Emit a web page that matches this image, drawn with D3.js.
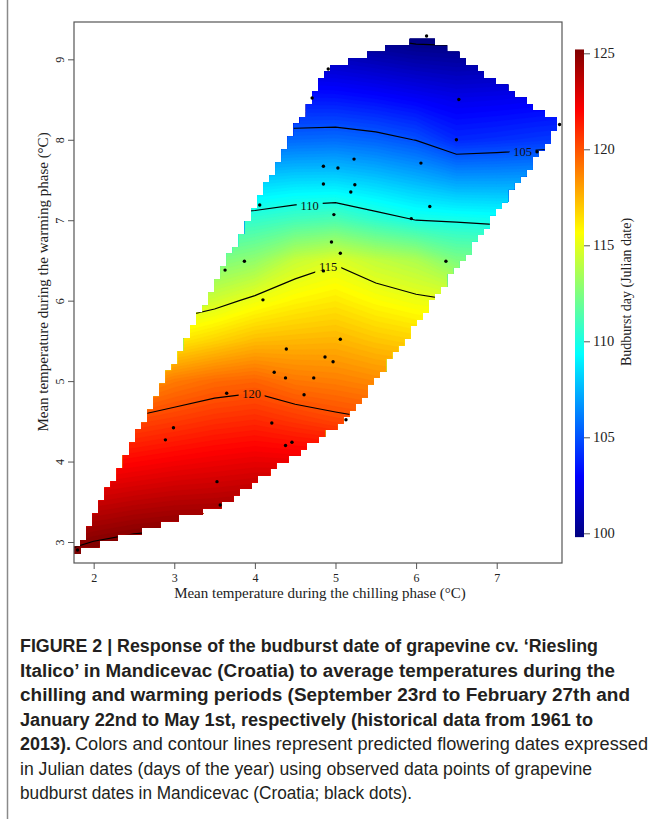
<!DOCTYPE html>
<html>
<head>
<meta charset="utf-8">
<script src="https://cdn.jsdelivr.net/npm/d3@7"></script>
<style>
  body { margin: 0; background: #fff; }
  svg { display: block; }
</style>
</head>
<body>
<svg id="chart" width="655" height="819"></svg>
<script>
// observed budburst years: mean chilling temp (x) and warming temp (y)
const chillTemp = [6.13, 4.91, 4.71, 6.53, 7.78, 6.50, 7.50, 5.23, 6.06, 4.85, 5.03, 4.85, 5.24, 5.19,
                   4.06, 6.17, 4.98, 5.94, 4.95, 5.06, 3.87, 6.37, 3.63, 4.85, 4.10, 5.06, 4.39, 4.87,
                   4.97, 4.24, 4.38, 4.73, 3.65, 4.61, 5.13, 4.21, 2.99, 2.89, 4.46, 4.38, 3.53, 3.57, 1.80];
const warmTemp  = [9.29, 8.88, 8.52, 8.50, 8.19, 8.00, 7.85, 7.76, 7.71, 7.67, 7.65, 7.45, 7.44, 7.35,
                   7.19, 7.17, 7.07, 7.02, 6.73, 6.59, 6.49, 6.49, 6.38, 6.37, 6.01, 5.52, 5.40, 5.30,
                   5.24, 5.11, 5.04, 5.04, 4.85, 4.83, 4.52, 4.48, 4.42, 4.27, 4.24, 4.20, 3.75, 3.46, 2.90];

// predicted budburst day (rows = warming temp, cols = chilling temp)
const gridChill = [1.5, 2.0, 2.5, 3.0, 3.5, 4.0, 4.5, 5.0, 5.5, 6.0, 6.5, 7.0, 7.5, 8.0];
const gridWarm = [2.5, 3.0, 3.5, 4.0, 4.5, 5.0, 5.5, 6.0, 6.5, 7.0, 7.5, 8.0, 8.5, 9.0, 9.5];
const budburstGrid = [
  [126.06, 126.68, 127.03, 127.13, 126.98, 127.12, 127.86, 128.81, 129.44, 130.00, 130.00, 130.00, 130.00, 130.00],
  [124.55, 125.03, 125.34, 125.49, 125.46, 125.61, 126.07, 126.69, 127.10, 127.50, 127.50, 127.50, 127.50, 127.50],
  [123.03, 123.39, 123.65, 123.85, 123.93, 124.09, 124.29, 124.58, 124.77, 125.00, 125.00, 125.00, 125.00, 125.00],
  [121.52, 121.74, 121.96, 122.21, 122.41, 122.58, 122.50, 122.46, 122.43, 122.50, 122.50, 122.50, 122.50, 122.50],
  [120.00, 120.10, 120.27, 120.57, 120.88, 121.06, 120.71, 120.34, 120.09, 120.00, 120.00, 120.00, 120.00, 120.00],
  [117.73, 117.90, 118.13, 118.94, 119.36, 119.55, 119.04, 118.87, 118.59, 118.42, 118.33, 118.30, 118.28, 118.28],
  [115.45, 115.67, 115.89, 116.20, 116.77, 117.34, 117.45, 117.53, 117.12, 116.84, 116.67, 116.60, 116.55, 116.55],
  [113.52, 113.68, 113.85, 114.06, 114.54, 115.29, 115.86, 116.18, 115.65, 115.25, 115.00, 114.85, 114.74, 114.74],
  [111.67, 111.80, 111.92, 112.11, 112.44, 112.97, 114.27, 114.84, 114.17, 113.69, 112.45, 112.30, 112.19, 112.16],
  [109.78, 109.91, 110.00, 110.16, 110.34, 110.61, 111.03, 111.27, 110.57, 110.00, 109.88, 109.72, 109.63, 109.59],
  [107.61, 107.68, 107.73, 107.83, 107.94, 108.09, 108.32, 108.35, 107.97, 107.47, 106.90, 106.91, 106.97, 107.04],
  [105.43, 105.45, 105.45, 105.47, 105.49, 105.52, 105.60, 105.69, 105.43, 104.96, 103.93, 104.10, 104.31, 104.49],
  [103.52, 103.52, 103.52, 103.52, 103.52, 103.52, 103.51, 103.48, 103.23, 102.87, 102.48, 102.57, 102.72, 102.86],
  [101.67, 101.67, 101.67, 101.67, 101.67, 101.67, 101.60, 101.43, 101.11, 100.79, 100.63, 100.74, 100.91, 101.07],
  [ 99.81,  99.81,  99.81,  99.81,  99.81,  99.81,  99.69,  99.39,  98.98,  98.71,  98.78,  98.90,  99.09,  99.29]
];

// contour lines and their labels
const contourLevels = [100, 105, 110, 115, 120, 125];
const labelLevels = [105, 110, 115, 120];
const labelChill = [7.32, 4.68, 4.91, 3.96];
const labelWarm = [7.85, 7.18, 6.42, 4.84];

// axes and colour bar
const xTicks = [2, 3, 4, 5, 6, 7];
const yTicks = [3, 4, 5, 6, 7, 8, 9];
const barTicks = [100, 105, 110, 115, 120, 125];
const zRange = [99.8, 125.2];
const colorStops = ["#00007F", "#0000FF", "#007FFF", "#00FFFF", "#7FFF7F", "#FFFF00", "#FF7F00", "#FF0000", "#7F0000"];

const captionBold = [
  "FIGURE 2 | Response of the budburst date of grapevine cv. \u2018Riesling",
  "Italico\u2019 in Mandicevac (Croatia) to average temperatures during the",
  "chilling and warming periods (September 23rd to February 27th and",
  "January 22nd to May 1st, respectively (historical data from 1961 to"
];
const captionBoldWidth = [578, 595, 610, 573];
const captionTail = "2013).";
const captionPlain = [
  "Colors and contour lines represent predicted flowering dates expressed",
  "in Julian dates (days of the year) using observed data points of grapevine",
  "budburst dates in Mandicevac (Croatia; black dots)."
];
const captionPlainWidth = [573, 572, 392];

const svg = d3.select("#chart");
const serif = "'Liberation Serif', 'Times New Roman', serif";

// plot box
const plotL = 74, plotR = 562, plotT = 22, plotB = 563;
const x = d3.scaleLinear().domain([1.756, 7.810]).range([plotL, plotR]);
const y = d3.scaleLinear().domain([2.739, 9.464]).range([plotB, plotT]);

const color = d3.scaleLinear()
    .domain(colorStops.map((c, i) => zRange[0] + i * (zRange[1] - zRange[0]) / (colorStops.length - 1)))
    .range(colorStops)
    .clamp(true);

// left frame line of the figure panel
svg.append("line")
    .attr("x1", 7.5).attr("x2", 7.5).attr("y1", 0).attr("y2", 819)
    .attr("stroke", "#8a8a8a").attr("stroke-width", 1.5);

const defs = svg.append("defs");

// cells of the prediction grid that fall inside the hull of the observations
const points = chillTemp.map((c, i) => [c, warmTemp[i]]);
const hull = d3.polygonHull(points);
const nCell = 80;
const xExt = d3.extent(chillTemp), yExt = d3.extent(warmTemp);
const cellX = d3.range(nCell).map(i => xExt[0] + i * (xExt[1] - xExt[0]) / (nCell - 1));
const cellY = d3.range(nCell).map(i => yExt[0] + i * (yExt[1] - yExt[0]) / (nCell - 1));
const dxCell = cellX[1] - cellX[0], dyCell = cellY[1] - cellY[0];

const cells = [];
cellX.forEach(cx => cellY.forEach(cy => {
    if (d3.polygonContains(hull, [cx, cy])) cells.push([cx, cy]);
}));
// the lowest observation sits on its own cell
cells.push([xExt[0], yExt[0]]);

// one path for all cells so the clip has no seams between them
const cellPath = d3.path();
const pad = 0.4;
cells.forEach(d => {
    const x0 = x(d[0] - dxCell / 2) - pad, x1 = x(d[0] + dxCell / 2) + pad;
    const y0 = y(d[1] + dyCell / 2) - pad, y1 = y(d[1] - dyCell / 2) + pad;
    cellPath.rect(x0, y0, x1 - x0, y1 - y0);
});
defs.append("clipPath").attr("id", "hullCells")
  .append("path")
    .attr("d", cellPath.toString())
    .attr("clip-rule", "nonzero");

// gaps in the contour lines behind the labels
const gapMask = defs.append("mask").attr("id", "labelGaps")
    .attr("maskUnits", "userSpaceOnUse")
    .attr("x", 0).attr("y", 0).attr("width", 655).attr("height", 819);
gapMask.append("rect").attr("width", 655).attr("height", 819).attr("fill", "#fff");
gapMask.selectAll("rect.gap")
  .data(labelLevels)
  .enter()
  .append("rect")
    .attr("class", "gap")
    .attr("x", (d, i) => x(labelChill[i]) - 13)
    .attr("y", (d, i) => y(labelWarm[i]) - 7)
    .attr("width", 26)
    .attr("height", 14)
    .attr("fill", "#000");

// grid -> plot coordinates for d3.contours output
const stepX = gridChill[1] - gridChill[0], stepY = gridWarm[1] - gridWarm[0];
const gridPath = d3.geoPath(d3.geoTransform({
    point: function (px, py) {
        this.stream.point(x(gridChill[0] + (px - 0.5) * stepX), y(gridWarm[0] + (py - 0.5) * stepY));
    }
}));
const flat = budburstGrid.flat();
const contourGen = d3.contours().size([gridChill.length, gridWarm.length]);

const surface = svg.append("g").attr("clip-path", "url(#hullCells)");

const bandStep = 0.2;
const bands = contourGen.thresholds(d3.range(98.6, 130.4, bandStep))(flat);
surface.selectAll("path.band")
  .data(bands)
  .enter()
  .append("path")
    .attr("class", "band")
    .attr("d", gridPath)
    .attr("fill", d => color(d.value + bandStep / 2))
    .attr("stroke", d => color(d.value + bandStep / 2))
    .attr("stroke-width", 0.3);

const lines = contourGen.thresholds(contourLevels)(flat);
surface.append("g").attr("mask", "url(#labelGaps)")
  .selectAll("path.iso")
  .data(lines)
  .enter()
  .append("path")
    .attr("class", "iso")
    .attr("d", gridPath)
    .attr("fill", "none")
    .attr("stroke", "#000")
    .attr("stroke-width", 1.2);

svg.selectAll("text.clabel")
  .data(labelLevels)
  .enter()
  .append("text")
    .attr("class", "clabel")
    .attr("x", (d, i) => x(labelChill[i]))
    .attr("y", (d, i) => y(labelWarm[i]))
    .attr("dy", "0.35em")
    .attr("text-anchor", "middle")
    .attr("font-family", serif)
    .attr("font-size", 12.5)
    .attr("fill", "#111")
    .text(d => d);

// observations
svg.selectAll("circle.obs")
  .data(points)
  .enter()
  .append("circle")
    .attr("class", "obs")
    .attr("cx", d => x(d[0]))
    .attr("cy", d => y(d[1]))
    .attr("r", 1.7)
    .attr("fill", "#000");

// box and axes
svg.append("rect")
    .attr("x", plotL).attr("y", plotT)
    .attr("width", plotR - plotL).attr("height", plotB - plotT)
    .attr("fill", "none").attr("stroke", "#555").attr("stroke-width", 1.2);

const xAxis = svg.append("g")
    .attr("transform", `translate(0,${plotB})`)
    .call(d3.axisBottom(x).tickValues(xTicks).tickSize(6).tickFormat(d3.format("d")));
const yAxis = svg.append("g")
    .attr("transform", `translate(${plotL},0)`)
    .call(d3.axisLeft(y).tickValues(yTicks).tickSize(6).tickFormat(d3.format("d")));
[xAxis, yAxis].forEach(a => {
    a.select(".domain").remove();
    a.selectAll("line").attr("stroke", "#555");
    a.selectAll("text").attr("font-family", serif).attr("font-size", 12).attr("fill", "#222");
});
xAxis.selectAll("text").attr("dy", "0.85em");
yAxis.selectAll("text")
    .attr("x", 0).attr("dy", 0)
    .attr("text-anchor", "middle")
    .attr("transform", "translate(-10.5,0) rotate(-90)");

svg.append("text")
    .attr("x", 320).attr("y", 598)
    .attr("text-anchor", "middle")
    .attr("font-family", serif).attr("font-size", 15).attr("fill", "#222")
    .text("Mean temperature during the chilling phase (\u00B0C)");

svg.append("text")
    .attr("transform", "translate(48,282) rotate(-90)")
    .attr("text-anchor", "middle")
    .attr("font-family", serif).attr("font-size", 15).attr("fill", "#222")
    .text("Mean temperature during the warming phase (\u00B0C)");

// colour bar
const bar = d3.scaleLinear().domain([100, 125]).range([533.3, 53.3]);
const grad = defs.append("linearGradient").attr("id", "barGrad")
    .attr("x1", 0).attr("y1", 1).attr("x2", 0).attr("y2", 0);
grad.selectAll("stop")
  .data(colorStops)
  .enter()
  .append("stop")
    .attr("offset", (d, i) => i / (colorStops.length - 1))
    .attr("stop-color", d => d);

svg.append("rect")
    .attr("x", 575).attr("width", 9)
    .attr("y", bar(zRange[1]))
    .attr("height", bar(zRange[0]) - bar(zRange[1]))
    .attr("fill", "url(#barGrad)");

const barAxis = svg.append("g")
    .attr("transform", "translate(584,0)")
    .call(d3.axisRight(bar).tickValues(barTicks).tickSize(6));
barAxis.select(".domain").remove();
barAxis.selectAll("line").attr("stroke", "#555");
barAxis.selectAll("text").attr("font-family", serif).attr("font-size", 14.5).attr("fill", "#222");

svg.append("text")
    .attr("transform", "translate(631,292) rotate(-90)")
    .attr("text-anchor", "middle")
    .attr("font-family", serif).attr("font-size", 14).attr("fill", "#222")
    .text("Budburst day (Julian date)");

// caption
const sans = "'Liberation Sans Narrow', 'Liberation Sans', Arial, sans-serif";
const lineY = d3.range(7).map(i => 652 + i * 24.5);
captionBold.forEach((t, i) => {
    svg.append("text")
        .attr("x", 20).attr("y", lineY[i])
        .attr("font-family", sans).attr("font-weight", "bold").attr("font-size", 17.5)
        .attr("fill", "#231f20")
        .attr("textLength", captionBoldWidth[i]).attr("lengthAdjust", "spacingAndGlyphs")
        .text(t);
});
svg.append("text")
    .attr("x", 20).attr("y", lineY[4])
    .attr("font-family", sans).attr("font-weight", "bold").attr("font-size", 17.5)
    .attr("fill", "#231f20")
    .attr("textLength", 51).attr("lengthAdjust", "spacingAndGlyphs")
    .text(captionTail);
captionPlain.forEach((t, i) => {
    svg.append("text")
        .attr("x", i === 0 ? 75 : 20).attr("y", lineY[4 + i])
        .attr("font-family", sans).attr("font-size", 17.5)
        .attr("fill", "#231f20")
        .attr("textLength", captionPlainWidth[i]).attr("lengthAdjust", "spacingAndGlyphs")
        .text(t);
});
</script>
</body>
</html>
